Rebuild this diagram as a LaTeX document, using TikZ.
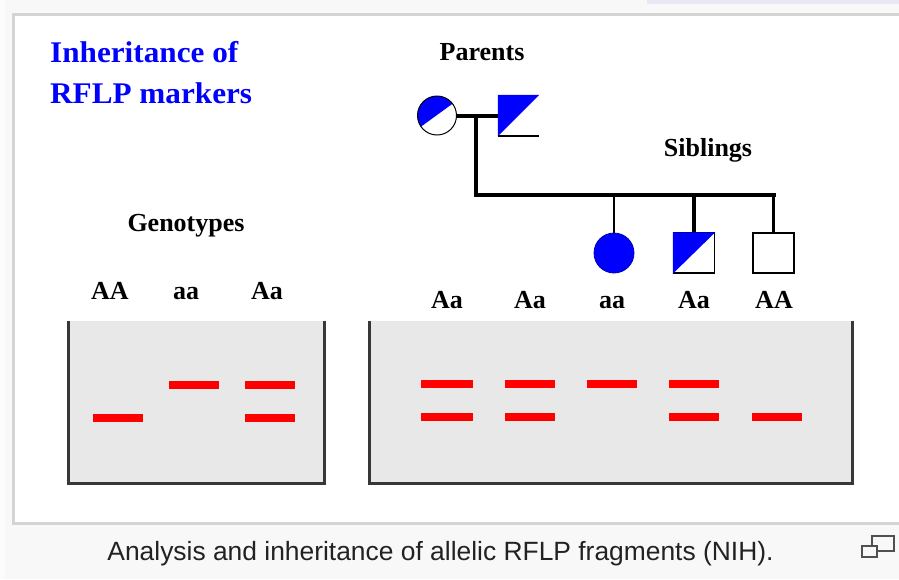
\documentclass[tikz,border=0pt]{standalone}
\usepackage{fontspec}
\setmainfont{Liberation Serif}
\newfontfamily\captionfont{Liberation Sans}

\definecolor{pedblue}{RGB}{0,0,255}
\definecolor{bandred}{RGB}{255,0,0}
\definecolor{gelfill}{RGB}{232,232,232}
\definecolor{geledge}{RGB}{55,55,55}
\definecolor{pagebg}{RGB}{248,248,248}
\definecolor{framegray}{RGB}{212,212,212}
\definecolor{captiongray}{RGB}{34,34,34}
\definecolor{icongray}{RGB}{80,80,80}
\definecolor{stripcol}{RGB}{234,231,242}

\tikzset{
  lbl/.style={font=\bfseries\fontsize{26}{26}\selectfont, inner sep=0pt, anchor=base},
  titletext/.style={font=\bfseries\fontsize{30}{30}\selectfont, text=pedblue, inner sep=0pt, anchor=base west, xscale=1.04, transform shape},
  bandbar/.style={fill=bandred, draw=none, inner sep=0pt, minimum width=50pt, minimum height=8.5pt},
  gelbox/.style={fill=gelfill, draw=none, inner sep=0pt},
  geloutline/.style={draw=geledge, line width=3pt},
  thickline/.style={line width=4pt},
  thinline/.style={line width=2.2pt},
  sqnode/.style={rectangle, inner sep=0pt, minimum width=41pt, minimum height=40pt},
}

\begin{document}
\begin{tikzpicture}[x=1pt, y=-1pt]
  \useasboundingbox (0,0) rectangle (899,579);
  \clip (0,0) rectangle (899,579);

  % page background, frame and top strip
  \fill[pagebg] (0,0) rectangle (899,579);
  \fill[white!60!pagebg] (0,0) rectangle (5,579);
  \fill[stripcol] (647,0) rectangle (899,4);
  \fill[white] (14,15) rectangle (910,523);
  \draw[framegray, line width=3pt] (13.5,14.5) rectangle (912,523);

  % title
  \node[titletext] (title1) at (50,62) {Inheritance of};
  \node[titletext] (title2) at (50,103) {RFLP markers};

  % headings
  \node[lbl] (parents) at (482,60) {Parents};
  \node[lbl] (siblings) at (708,156) {Siblings};
  \node[lbl] (genotypes) at (186,231) {Genotypes};

  % parents
  \begin{scope}
    \clip (437,115.5) circle (19.5pt);
    \fill[pedblue] (415,131) -- (459,99) -- (459,93) -- (415,93) -- cycle;
  \end{scope}
  \node[circle, draw=black, line width=1pt, inner sep=0pt, minimum size=39pt] (mother) at (437,115.5) {};
  \node[sqnode, minimum height=41pt] (father) at (518.5,115.5) {};
  \fill[pedblue] (father.south west) -- (father.north east) -- (father.north west) -- cycle;
  \draw[line width=1.5pt] (father.south west) -- (father.south east);

  % siblings
  \node[circle, fill=pedblue, draw=pedblue!70!black, line width=0.8pt, inner sep=0pt, minimum size=40pt] (sister) at (614,253) {};
  \node[sqnode, draw=black, line width=1.5pt, fill=white] (brother1) at (694,253) {};
  \fill[pedblue] (brother1.south west) -- (brother1.north east) -- (brother1.north west) -- cycle;
  \node[sqnode, draw=black, line width=1.5pt, fill=white] (brother2) at (773.5,253) {};

  % pedigree lines
  \coordinate (mate) at (476,115.5);
  \coordinate (sibL) at (476,195);
  \coordinate (sibR) at (776,195);
  \draw[thickline] (mother) -- (father);
  \draw[thickline, line join=miter] (mate) -- (sibL) -- (sibR);
  \draw[thinline] (sister.north |- sibL) -- (sister.north);
  \draw[thickline] (brother1.north |- sibL) -- (brother1.north);
  \draw[thinline] (brother2.north |- sibL) -- (brother2.north);

  % genotype labels
  \node[lbl] (gAA) at (110,299) {AA};
  \node[lbl] (gaa) at (186,299) {aa};
  \node[lbl] (gAa) at (267,299) {Aa};
  \node[lbl] (s1) at (447,308) {Aa};
  \node[lbl] (s2) at (530,308) {Aa};
  \node[lbl] (s3) at (612,308) {aa};
  \node[lbl] (s4) at (694,308) {Aa};
  \node[lbl] (s5) at (774,308) {AA};

  % gels
  \node[gelbox, minimum width=255pt, minimum height=162pt] (gelL) at (196.5,402) {};
  \draw[geloutline] (gelL.north west) -- (gelL.south west) -- (gelL.south east) -- (gelL.north east);
  \node[gelbox, minimum width=482pt, minimum height=162pt] (gelR) at (611,402) {};
  \draw[geloutline] (gelR.north west) -- (gelR.south west) -- (gelR.south east) -- (gelR.north east);

  % bands, reference gel
  \node[bandbar] (bAA) at (118,418) {};
  \node[bandbar] (baa) at (194,385) {};
  \node[bandbar] (bAa1) at (270,385) {};
  \node[bandbar] (bAa2) at (270,418) {};

  % bands, family gel
  \node[bandbar, minimum width=52pt] (f1u) at (447,384) {};
  \node[bandbar, minimum width=52pt] (f1l) at (447,417) {};
  \node[bandbar] (f2u) at (530,384) {};
  \node[bandbar] (f2l) at (530,417) {};
  \node[bandbar] (f3u) at (612,384) {};
  \node[bandbar] (f4u) at (694,384) {};
  \node[bandbar] (f4l) at (694,417) {};
  \node[bandbar] (f5l) at (777,417) {};

  % caption
  \node[font=\captionfont\fontsize{26.4}{26.4}\selectfont, text=captiongray, inner sep=0pt, anchor=base] (caption) at (440.5,560) {Analysis and inheritance of allelic RFLP fragments (NIH).};

  % enlarge icon
  \draw[icongray, line width=1.8pt] (872,536) rectangle (894,551);
  \draw[icongray, line width=1.8pt, fill=pagebg] (862,546) rectangle (877,557);
\end{tikzpicture}
\end{document}
